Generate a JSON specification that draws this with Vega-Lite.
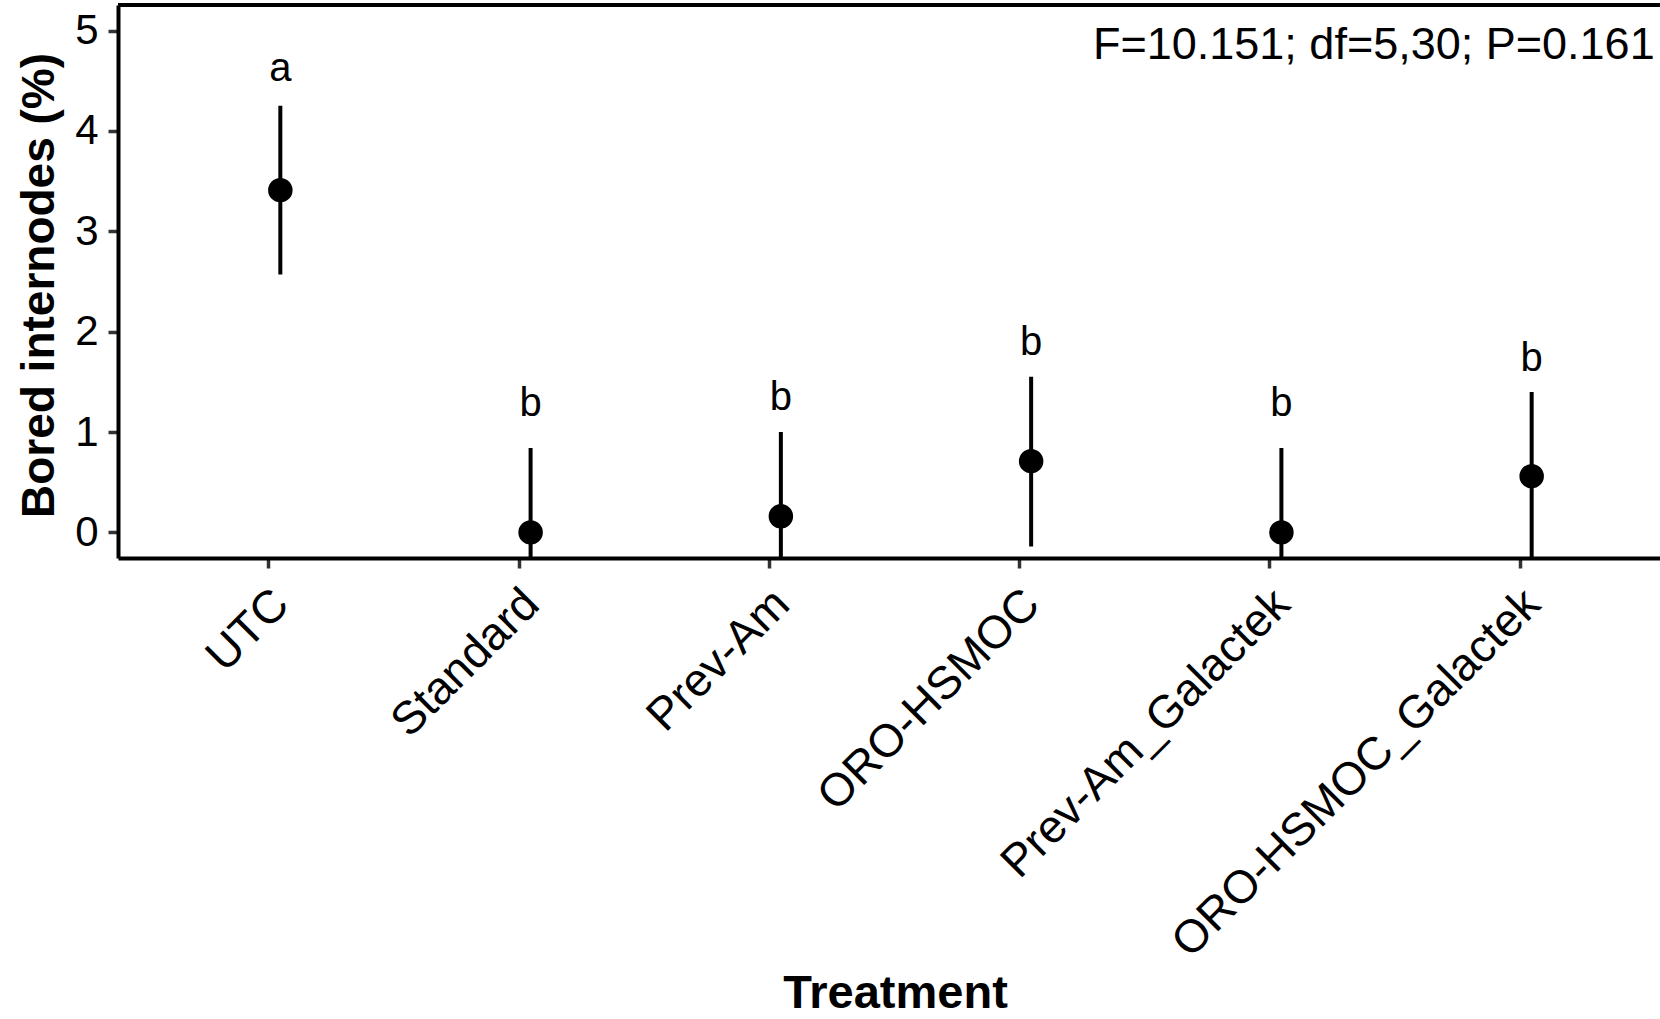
{
  "$schema": "https://vega.github.io/schema/vega-lite/v6.json",
  "autosize": {"type": "none"},
  "padding": {"left": 118, "top": 5, "right": 0, "bottom": 461},
  "width": 1542,
  "height": 553,
  "background": "white",
  "config": {
    "view": {"stroke": null},
    "font": "Liberation Sans",
    "axis": {
      "labelFont": "Liberation Sans",
      "titleFont": "Liberation Sans",
      "labelColor": "black",
      "titleColor": "black",
      "domainColor": "black",
      "domainWidth": 4,
      "tickColor": "#333333",
      "tickWidth": 3.5,
      "tickSize": 10,
      "grid": false
    }
  },
  "datasets": {
    "means": [
      {"Treatment": "UTC", "mean": 3.41, "lower": 2.57, "upper": 4.25, "letter": "a", "letter_y": 4.50},
      {"Treatment": "Standard", "mean": 0.0, "lower": -0.84, "upper": 0.84, "letter": "b", "letter_y": 1.16},
      {"Treatment": "Prev-Am", "mean": 0.16, "lower": -0.68, "upper": 1.0, "letter": "b", "letter_y": 1.22},
      {"Treatment": "ORO-HSMOC", "mean": 0.71, "lower": -0.14, "upper": 1.55, "letter": "b", "letter_y": 1.77},
      {"Treatment": "Prev-Am_Galactek", "mean": 0.0, "lower": -0.84, "upper": 0.84, "letter": "b", "letter_y": 1.16},
      {"Treatment": "ORO-HSMOC_Galactek", "mean": 0.56, "lower": -0.28, "upper": 1.40, "letter": "b", "letter_y": 1.61}
    ],
    "note": [
      {"Treatment": "ORO-HSMOC_Galactek", "y": 4.72, "label": "F=10.151; df=5,30; P=0.161"}
    ]
  },
  "data": {"name": "means"},
  "encoding": {
    "x": {
      "field": "Treatment",
      "type": "nominal",
      "sort": ["UTC", "Standard", "Prev-Am", "ORO-HSMOC", "Prev-Am_Galactek", "ORO-HSMOC_Galactek"],
      "scale": {"type": "point", "range": [0, 1552], "padding": 0.6007},
      "axis": {
        "title": "Treatment",
        "titleFontSize": 47,
        "titleFontWeight": "bold",
        "titleX": 777,
        "titleY": 449,
        "titleBaseline": "alphabetic",
        "labelAngle": -45,
        "labelAlign": "right",
        "labelBaseline": "top",
        "labelFontSize": 46,
        "labelOffset": -3,
        "labelPadding": 13,
        "labelOverlap": false,
        "labelLimit": 0
      }
    }
  },
  "layer": [
    {
      "mark": {"type": "rule", "color": "black", "strokeWidth": 3.5},
      "encoding": {"y": {"datum": 5.255, "type": "quantitative"}, "x": null}
    },
    {
      "mark": {"type": "rule", "color": "black", "strokeWidth": 4, "xOffset": 12, "clip": true},
      "encoding": {
        "y": {
          "field": "lower",
          "type": "quantitative",
          "scale": {"domain": [-0.255, 5.255], "nice": false, "zero": false},
          "axis": {
            "title": "Bored internodes (%)",
            "titleFontSize": 46,
            "titleFontWeight": "bold",
            "titleX": -65,
            "titleY": 280,
            "titleBaseline": "alphabetic",
            "values": [0, 1, 2, 3, 4, 5],
            "format": "d",
            "labelFontSize": 42,
            "labelPadding": 10
          }
        },
        "y2": {"field": "upper"}
      }
    },
    {
      "mark": {"type": "circle", "color": "black", "size": 600, "opacity": 1, "xOffset": 12},
      "encoding": {"y": {"field": "mean", "type": "quantitative"}}
    },
    {
      "mark": {"type": "text", "fontSize": 40, "baseline": "alphabetic", "align": "center", "xOffset": 12, "color": "black"},
      "encoding": {
        "y": {"field": "letter_y", "type": "quantitative"},
        "text": {"field": "letter"}
      }
    },
    {
      "data": {"name": "note"},
      "mark": {"type": "text", "font": "Liberation Sans", "fontSize": 45, "align": "right", "baseline": "alphabetic", "dx": 135, "color": "black"},
      "encoding": {
        "y": {"field": "y", "type": "quantitative"},
        "text": {"field": "label"}
      }
    }
  ]
}
